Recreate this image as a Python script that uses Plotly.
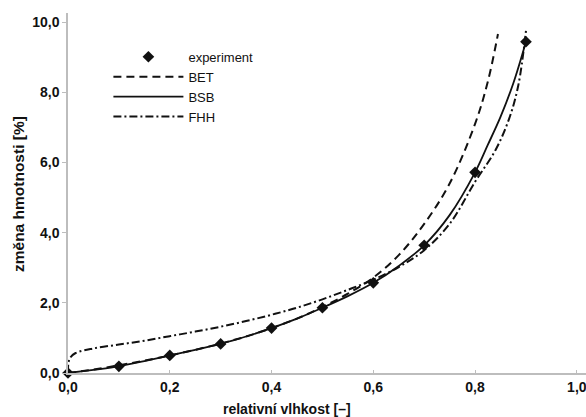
import plotly.graph_objects as go

# experiment
exp_x = [0.0, 0.1, 0.2, 0.3, 0.4, 0.5, 0.6, 0.7, 0.8, 0.9]
exp_y = [0.0, 0.19, 0.50, 0.83, 1.28, 1.86, 2.57, 3.64, 5.72, 9.44]

# BET model curve
bet_x = [0.0, 0.05, 0.1, 0.15, 0.2, 0.25, 0.3, 0.35, 0.4, 0.45, 0.5, 0.55, 0.6, 0.65, 0.7, 0.75, 0.8, 0.825, 0.845]
bet_y = [0.0, 0.10, 0.22, 0.35, 0.50, 0.66, 0.84, 1.04, 1.28, 1.55, 1.88, 2.26, 2.72, 3.36, 4.25, 5.40, 7.10, 8.30, 9.66]

# BSB model curve
bsb_x = [0.0, 0.05, 0.1, 0.15, 0.2, 0.25, 0.3, 0.35, 0.4, 0.45, 0.5, 0.55, 0.6, 0.65, 0.7, 0.75, 0.8, 0.825, 0.85, 0.875, 0.9]
bsb_y = [0.0, 0.09, 0.19, 0.34, 0.50, 0.66, 0.83, 1.04, 1.28, 1.55, 1.86, 2.19, 2.57, 3.05, 3.64, 4.50, 5.72, 6.50, 7.30, 8.25, 9.44]

# FHH model curve
fhh_x = [0.0, 0.001, 0.005, 0.015, 0.05, 0.1, 0.15, 0.2, 0.25, 0.3, 0.35, 0.4, 0.45, 0.5, 0.55, 0.6, 0.65, 0.7, 0.75, 0.8, 0.84, 0.867, 0.885, 0.9]
fhh_y = [0.0, 0.30, 0.45, 0.57, 0.70, 0.81, 0.92, 1.05, 1.18, 1.32, 1.48, 1.66, 1.86, 2.10, 2.37, 2.66, 3.02, 3.50, 4.25, 5.45, 6.35, 7.25, 8.20, 9.75]

y_ticks = [0, 2, 4, 6, 8, 10]
x_ticks = [0.0, 0.2, 0.4, 0.6, 0.8, 1.0]

ink = "#111111"
axis_col = "#bdbdbd"
font_family = "Liberation Sans, Arial, sans-serif"

fig = go.Figure()
fig.add_trace(go.Scatter(x=exp_x, y=exp_y, mode="markers", name="experiment",
                         marker=dict(symbol="diamond", size=9, color=ink),
                         cliponaxis=False))
fig.add_trace(go.Scatter(x=bet_x, y=bet_y, mode="lines", name="BET",
                         line=dict(color=ink, width=2, dash="8px,5px", shape="spline")))
fig.add_trace(go.Scatter(x=bsb_x, y=bsb_y, mode="lines", name="BSB",
                         line=dict(color=ink, width=1.8, shape="spline")))
fig.add_trace(go.Scatter(x=fhh_x, y=fhh_y, mode="lines", name="FHH",
                         line=dict(color=ink, width=2, dash="8px,3px,2px,3px", shape="spline")))

fig.update_layout(
    width=586, height=417,
    margin=dict(l=68, r=0, t=13, b=44),
    paper_bgcolor="white", plot_bgcolor="white",
    separators=", ",
    font=dict(family=font_family, color=ink),
    showlegend=True,
    legend=dict(x=0.078, y=0.92, xanchor="left", yanchor="top",
                bgcolor="rgba(0,0,0,0)", font=dict(size=13, family=font_family, color=ink),
                itemwidth=70, tracegroupgap=0),
    xaxis=dict(range=[0, 1.018], tickvals=x_ticks, tickformat=".1f",
               showgrid=False, zeroline=False, showline=True, linecolor=axis_col, linewidth=1.5,
               ticks="inside", ticklen=3, tickcolor=axis_col, ticklabeloverflow="allow",
               tickfont=dict(size=14, family=font_family, color=ink, weight="bold")),
    yaxis=dict(range=[0, 10.26], tickvals=y_ticks, tickformat=".1f",
               showgrid=False, zeroline=False, showline=True, linecolor=axis_col, linewidth=1.5,
               ticks="outside", ticklen=4, tickcolor=axis_col,
               tickfont=dict(size=14, family=font_family, color=ink, weight="bold")),
    annotations=[
        dict(text="<b>relativní vlhkost [–]</b>", xref="paper", yref="paper",
             x=(287 - 68) / 518, y=-(409 - 373) / 360, xanchor="center", yanchor="middle",
             showarrow=False, font=dict(size=14, family=font_family, color=ink)),
        dict(text="<b>změna hmotnosti [%]</b>", xref="paper", yref="paper",
             x=-(68 - 18) / 518, y=(373 - 194) / 360, xanchor="center", yanchor="middle",
             textangle=-90, showarrow=False, font=dict(size=15.5, family=font_family, color=ink)),
    ],
)

fig.write_html("out.html")
